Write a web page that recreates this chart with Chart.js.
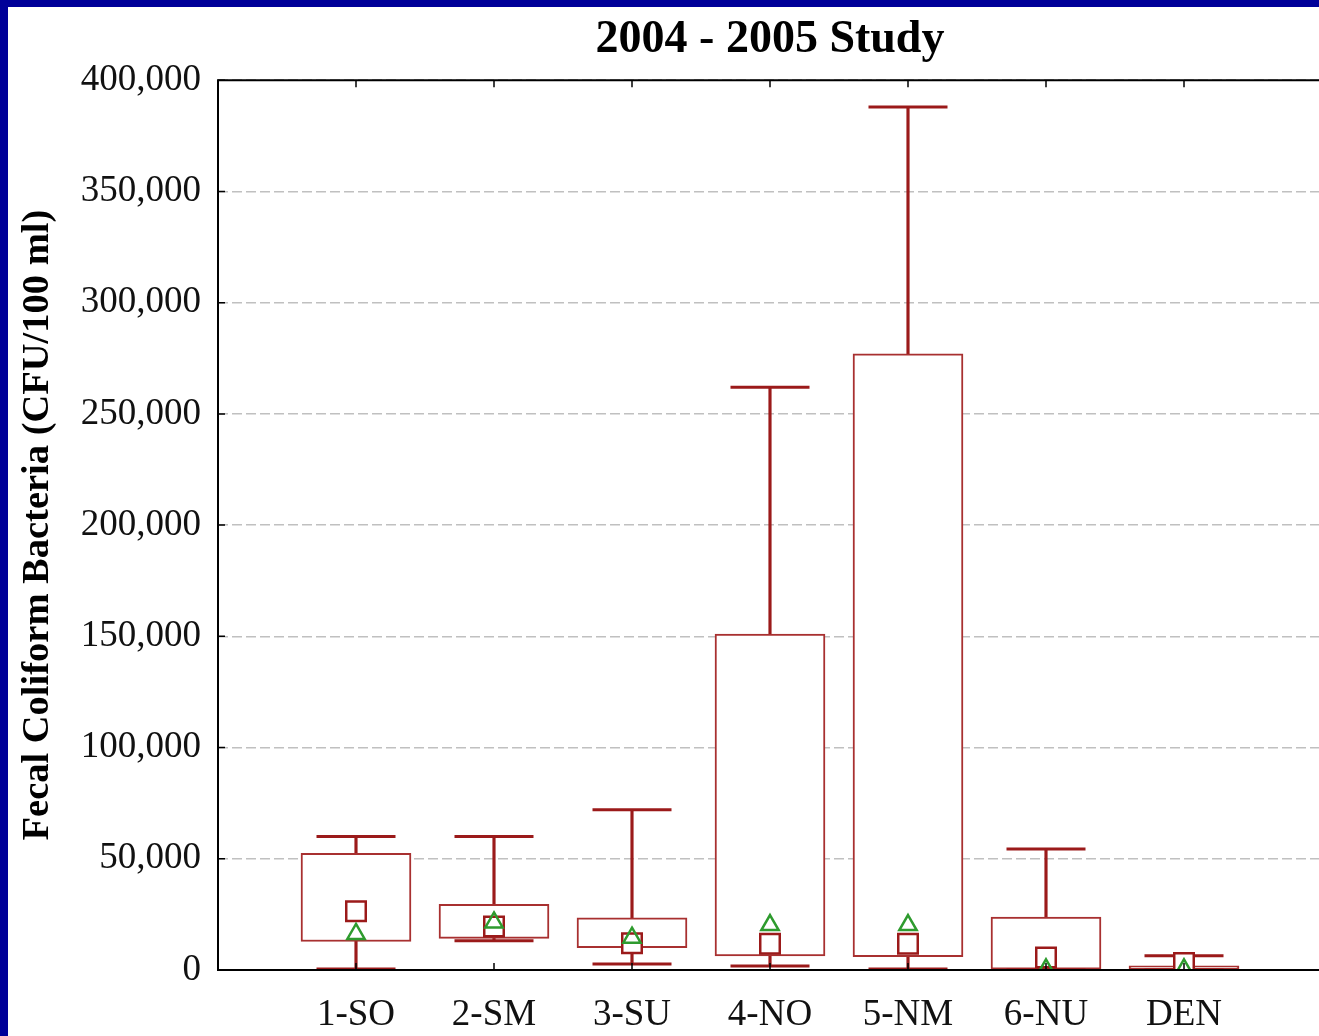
<!DOCTYPE html>
<html><head><meta charset="utf-8">
<script src="https://cdn.jsdelivr.net/npm/chart.js@4.4.1/dist/chart.umd.min.js"></script>
<style>
html,body{margin:0;padding:0;background:#000099;overflow:hidden;width:1319px;height:1036px;}
#wrap{position:absolute;left:8px;top:7px;width:1314px;height:1029px;background:#fff;}
canvas{display:block;}
</style></head><body>
<div id="wrap"><canvas id="c" width="1314" height="1029"></canvas></div>
<script>
const categories = ['1-SO','2-SM','3-SU','4-NO','5-NM','6-NU','DEN'];
const maxVals   = [60000, 60000, 72000, 262000, 388000, 54400, 6400];
const q3Vals    = [52500, 29500, 23500, 151000, 277000, 23800, 1900];
const q1Vals    = [12800, 14200, 10000, 6300, 6000, 0, 0];
const minVals   = [500, 13200, 2700, 1800, 500, 0, 0];
const meanVals  = [26400, 19600, 12000, 11800, 11800, 5600, 3100];
const medianVals= [16200, 21400, 14500, 20200, 20200, 300, 300];
const yTickStep = 50000;
const yMax = 400000;

const RED = '#9b1a1a';
const BOXRED = '#a83030';
const GREEN = '#2e9b2e';
const FONT = 'Liberation Serif';

const pad = arr => [null, ...arr, null];
const fmt = v => String(v).replace(/\B(?=(\d{3})+(?!\d))/g, ',');

const frame = {
  id: 'frame',
  afterDatasetsDraw(chart) {
    const {ctx, chartArea: a, scales: {x, y}} = chart;
    ctx.save();
    ctx.strokeStyle = '#000';
    ctx.lineWidth = 2;
    ctx.beginPath();
    ctx.moveTo(a.left - 1, a.top); ctx.lineTo(a.right + 5, a.top);
    ctx.moveTo(a.left, a.top - 1); ctx.lineTo(a.left, a.bottom + 1);
    ctx.moveTo(a.left - 1, a.bottom); ctx.lineTo(a.right + 5, a.bottom);
    ctx.stroke();
    ctx.lineWidth = 1.5;
    ctx.beginPath();
    categories.forEach((c, i) => {
      const px = x.getPixelForValue(i + 1);
      ctx.moveTo(px, a.top); ctx.lineTo(px, a.top + 7);
      ctx.moveTo(px, a.bottom); ctx.lineTo(px, a.bottom - 7);
    });
    y.ticks.forEach(t => {
      const py = y.getPixelForValue(t.value);
      ctx.moveTo(a.left, py); ctx.lineTo(a.left + 7, py);
    });
    ctx.stroke();
    ctx.restore();
  }
};

new Chart(document.getElementById('c'), {
  type: 'bar',
  data: {
    labels: pad(categories).map(v => v === null ? '' : v),
    datasets: [
      { type: 'bar', data: pad(categories.map((_, i) => [minVals[i], maxVals[i]])),
        barThickness: 2.5, backgroundColor: RED, grouped: false, order: 5 },
      { type: 'bar', data: pad(categories.map((_, i) => [q1Vals[i], q3Vals[i]])),
        barThickness: 110, backgroundColor: '#ffffff', borderColor: BOXRED, borderWidth: 2,
        borderSkipped: false, grouped: false, order: 4 },
      { type: 'line', data: pad(maxVals), showLine: false, pointStyle: 'line', pointRadius: 39.5,
        pointBorderColor: RED, pointBorderWidth: 3, order: 3 },
      { type: 'line', data: pad(minVals), showLine: false, pointStyle: 'line', pointRadius: 39.5,
        pointBorderColor: RED, pointBorderWidth: 3, order: 3 },
      { type: 'line', data: pad(meanVals), showLine: false, pointStyle: 'rect', pointRadius: 13.8,
        pointBackgroundColor: '#ffffff', pointBorderColor: RED, pointBorderWidth: 2.5, clip: 0, order: 2 },
      { type: 'line', data: pad(medianVals), showLine: false, pointStyle: 'triangle', pointRadius: 10,
        pointBackgroundColor: 'rgba(0,0,0,0)', pointBorderColor: GREEN, pointBorderWidth: 2.5, clip: 0, order: 1 }
    ]
  },
  options: {
    responsive: false,
    animation: false,
    events: [],
    layout: { padding: 0, autoPadding: false },
    plugins: {
      legend: { display: false },
      tooltip: { enabled: false },
      title: {
        display: true, text: '2004 - 2005 Study', color: '#000', fullSize: false,
        font: { family: FONT, size: 46, weight: 'bold' },
        padding: { top: 6, bottom: 12 }
      }
    },
    scales: {
      x: {
        type: 'category', offset: false,
        grid: { display: false },
        border: { display: false },
        ticks: { autoSkip: false, maxRotation: 0, color: '#111', padding: 15,
                 font: { family: FONT, size: 37 } },
        afterFit: s => { s.height = 66; s.paddingLeft = 0; s.paddingRight = 0; }
      },
      y: {
        min: 0, max: yMax,
        grid: { color: '#c0c0c0', lineWidth: 1.5, drawTicks: false },
        border: { display: false, dash: [10, 4] },
        ticks: { stepSize: yTickStep, color: '#111', padding: 17,
                 font: { family: FONT, size: 37 }, callback: v => fmt(v) },
        title: { display: true, text: 'Fecal Coliform Bacteria (CFU/100 ml)', color: '#000',
                 font: { family: FONT, size: 38.5, weight: 'bold' }, padding: { top: 7, bottom: 0 } },
        afterFit: s => { s.width = 210; }
      }
    }
  },
  plugins: [frame]
});
</script>
</body></html>
